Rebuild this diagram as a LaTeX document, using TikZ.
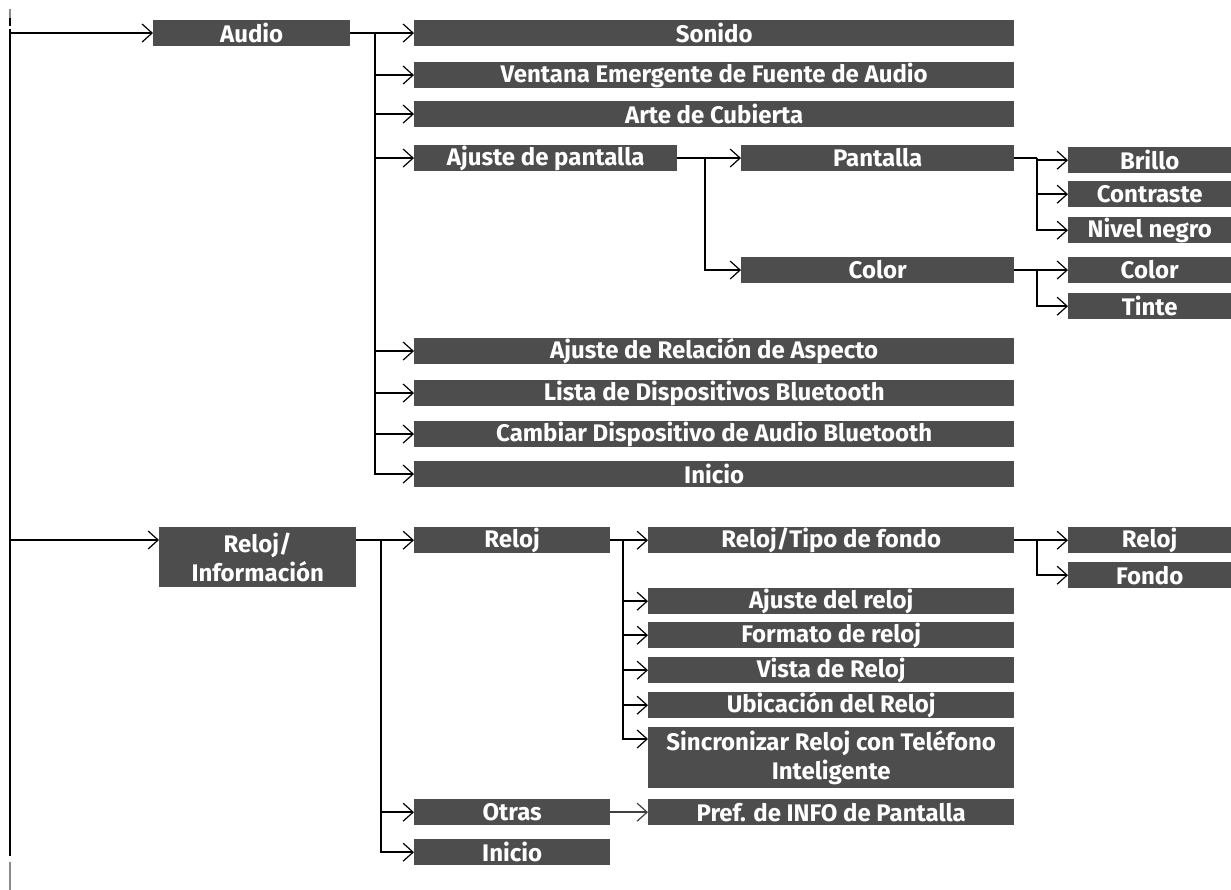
\documentclass[tikz,border=0pt]{standalone}
\usepackage{fontspec}
\setmainfont{Fira Sans}
\usetikzlibrary{arrows.meta,calc}
\definecolor{boxgray}{HTML}{4D4D4D}
\definecolor{tickgray}{HTML}{8A8A8A}
\newcommand\bx[6]{%
  \pgfmathsetmacro\bxw{#4-#2}\pgfmathsetmacro\bxh{#5-#3}%
  \node[box,anchor=north west,minimum width=\bxw pt,minimum height=\bxh pt] (#1) at (#2,#3) {#6};}
\begin{document}
\begin{tikzpicture}[x=1pt,y=-1pt,
  box/.style={fill=boxgray,text=white,font=\bfseries\fontsize{24}{29}\selectfont,inner sep=0pt,align=center},
  ln/.style={line width=2pt},
  arr/.style={line width=2pt,-{Straight Barb[length=10pt,width=18pt,line width=1.2pt]}},
  thinarr/.style={line width=1.5pt,draw=darkgray,-{Straight Barb[length=10pt,width=18pt,line width=1.2pt]}},
]
\useasboundingbox (0,0) rectangle (1231,890);
% boxes
\bx{audio}{153}{20}{350}{45.7}{Audio}
\bx{sonido}{414}{20}{1014}{45.7}{Sonido}
\bx{ventana}{414}{62}{1014}{87.7}{Ventana Emergente de Fuente de Audio}
\bx{arte}{414}{101}{1014}{126.7}{Arte de Cubierta}
\bx{ajp}{414}{145}{677}{170.7}{Ajuste de pantalla}
\bx{pantalla}{741}{145}{1014}{170.7}{Pantalla}
\bx{brillo}{1068}{147}{1231}{173}{Brillo}
\bx{contraste}{1068}{181}{1231}{207}{Contraste}
\bx{nivel}{1068}{217}{1231}{243}{Nivel negro}
\bx{colorm}{741}{257}{1014}{282.7}{Color}
\bx{colorr}{1068}{257}{1231}{282.7}{Color}
\bx{tinte}{1068}{293}{1231}{319}{Tinte}
\bx{relacion}{414}{338}{1014}{363.7}{Ajuste de Relación de Aspecto}
\bx{lista}{414}{380}{1014}{405.7}{Lista de Dispositivos Bluetooth}
\bx{cambiar}{414}{421}{1014}{446.7}{Cambiar Dispositivo de Audio Bluetooth}
\bx{inicioa}{414}{461}{1014}{486.7}{Inicio}
\bx{relinfo}{159}{527}{356}{587}{Reloj/\\Información}
\bx{reloj}{414}{527}{610}{553}{Reloj}
\bx{reltipo}{648}{527}{1014}{553}{Reloj/Tipo de fondo}
\bx{relojr}{1068}{527}{1231}{553}{Reloj}
\bx{fondo}{1068}{562}{1231}{588}{Fondo}
\bx{ajreloj}{648}{588}{1014}{614}{Ajuste del reloj}
\bx{formato}{648}{622}{1014}{648}{Formato de reloj}
\bx{vista}{648}{657}{1014}{683}{Vista de Reloj}
\bx{ubic}{648}{692}{1014}{718}{Ubicación del Reloj}
\bx{sinc}{648}{727}{1014}{788}{Sincronizar Reloj con Teléfono\\Inteligente}
\bx{otras}{414}{799}{610}{825}{Otras}
\bx{pref}{648}{799}{1014}{825}{Pref. de INFO de Pantalla}
\bx{iniciob}{414}{839}{610}{865}{Inicio}
% left main line and ticks
\coordinate (mtop) at (10,29);
\coordinate (mbot) at (10,856);
\draw[line width=2pt,tickgray] (10,9) -- (10,18);
\draw[line width=2pt] (10,18) -- (10,26);
\draw[line width=2pt,tickgray] (10,862) -- (10,890);
\draw[ln] (mtop) -- (mbot);
\draw[arr] (mtop |- audio.west) -- (audio.west);
\coordinate (riin) at ($(relinfo.north west)+(0,13)$);
\coordinate (riout) at ($(relinfo.north east)+(0,13)$);
\draw[arr] (mtop |- riin) -- (riin);
% Audio branch
\coordinate (ta) at ($(audio.east)+(25,0)$);
\draw[ln] (audio.east) -- (ta);
\foreach \c in {sonido,ventana,arte,ajp,relacion,lista,cambiar,inicioa}
  \draw[arr] (ta) |- (\c.west);
% Ajuste de pantalla branch
\coordinate (tp) at ($(ajp.east)+(28,0)$);
\draw[ln] (ajp.east) -- (tp);
\foreach \c in {pantalla,colorm} \draw[arr] (tp) |- (\c.west);
% Pantalla branch
\coordinate (tq) at ($(pantalla.east)+(23,0)$);
\draw[ln] (pantalla.east) -- (tq);
\draw[arr] (tq) |- (brillo.west);
\foreach \c in {contraste,nivel} \draw[arr] (tq |- brillo.west) |- (\c.west);
% Color branch
\coordinate (tc) at ($(colorm.east)+(23,0)$);
\draw[ln] (colorm.east) -- (tc);
\foreach \c in {colorr,tinte} \draw[arr] (tc) |- (\c.west);
% Reloj/Informacion branch
\coordinate (tr) at ($(riout)+(25,0)$);
\draw[ln] (riout) -- (tr);
\foreach \c in {reloj,otras,iniciob} \draw[arr] (tr) |- (\c.west);
% Reloj branch
\coordinate (ts) at ($(reloj.east)+(13,0)$);
\draw[ln] (reloj.east) -- (ts);
\foreach \c in {reltipo,ajreloj,formato,vista,ubic} \draw[arr] (ts) |- (\c.west);
\coordinate (sincin) at ($(sinc.north west)+(0,12)$);
\draw[arr] (ts) |- (sincin);
% Reloj/Tipo branch
\coordinate (tt) at ($(reltipo.east)+(23,0)$);
\draw[ln] (reltipo.east) -- (tt);
\foreach \c in {relojr,fondo} \draw[arr] (tt) |- (\c.west);
% Otras -> Pref
\draw[thinarr] (otras.east) -- (pref.west);
\end{tikzpicture}
\end{document}
